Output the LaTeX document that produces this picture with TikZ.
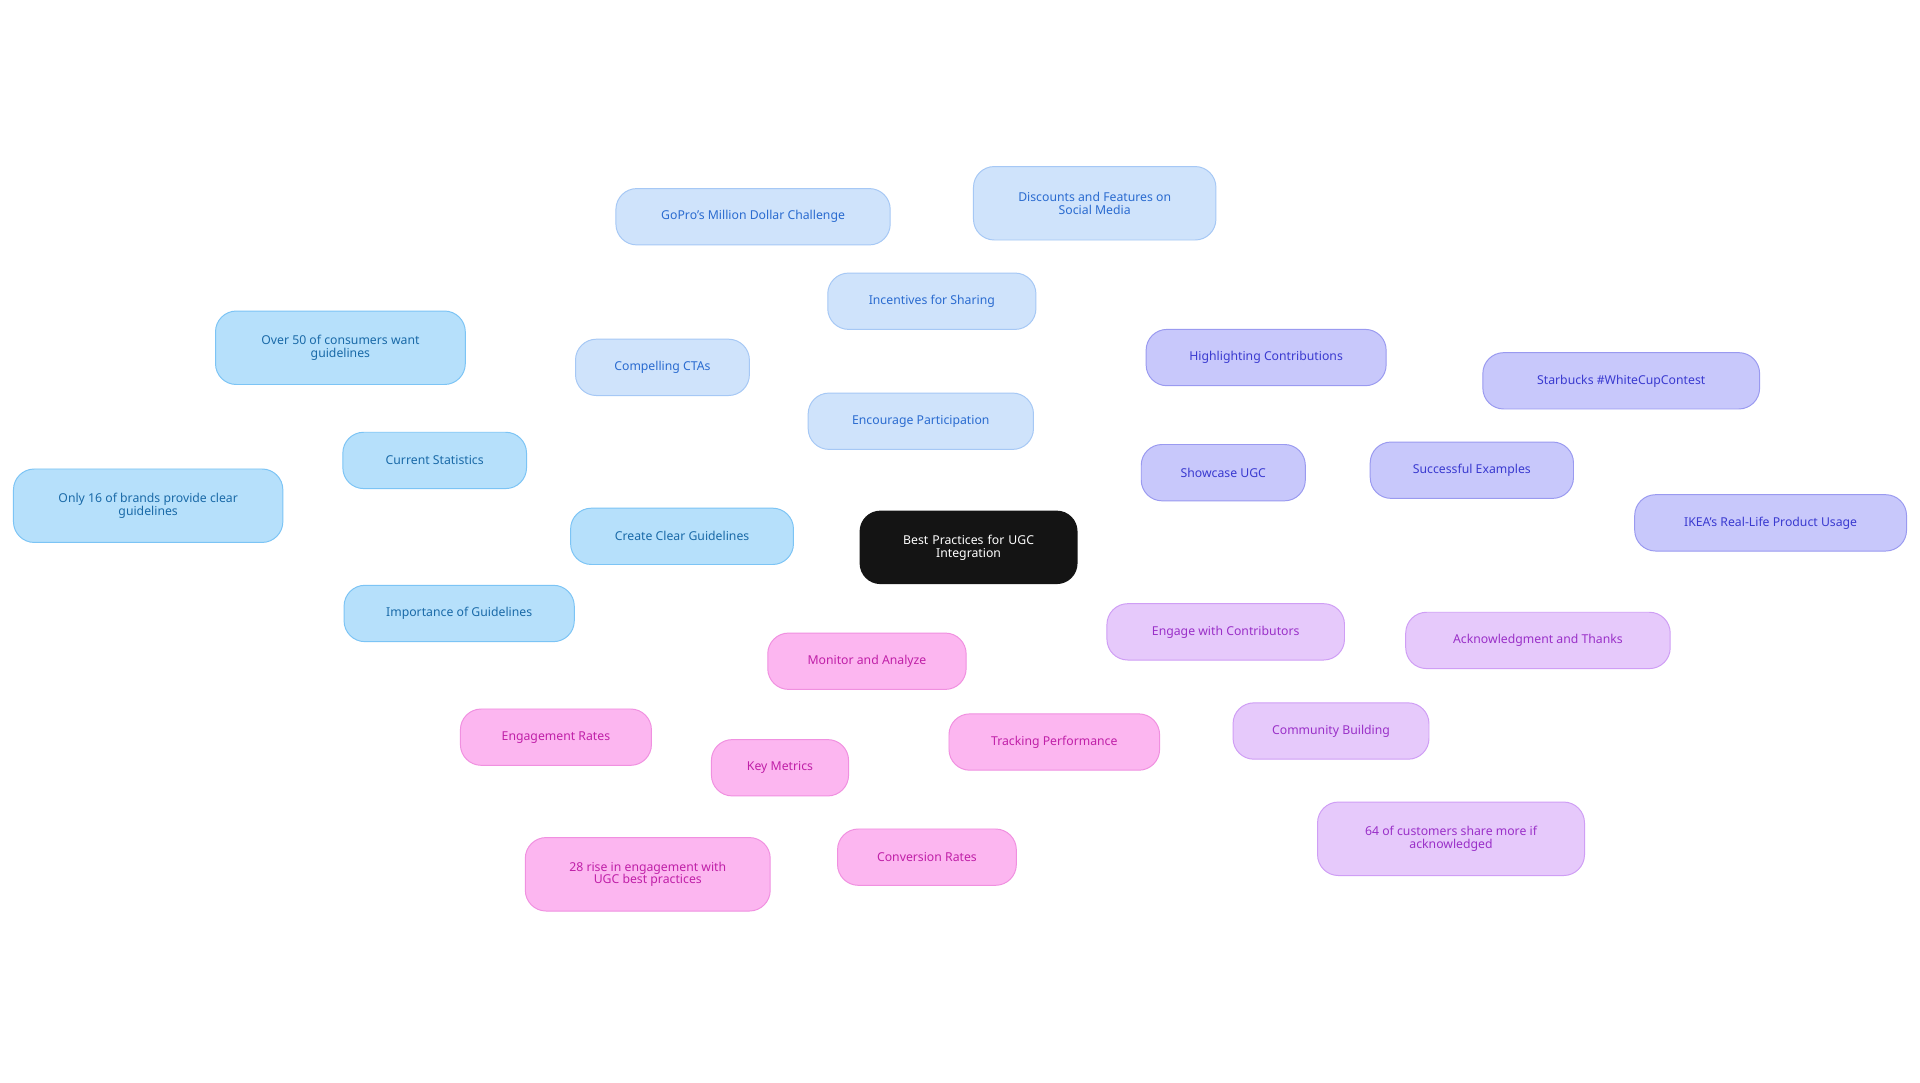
\documentclass[tikz,border=0pt]{standalone}
\usepackage{fontspec}
\setmainfont{Noto Sans}
\begin{document}
\begin{tikzpicture}[x=1pt,y=-1pt,
 base/.style={rounded corners=17pt,align=center,font=\fontsize{10}{10.5}\selectfont,inner sep=0pt,line width=0.8pt},
 b1/.style={base,fill=cB1,draw=dB1,text=tB1},
 b2/.style={base,fill=cB2,draw=dB2,text=tB2},
 b3/.style={base,fill=cB3,draw=dB3,text=tB3},
 b4/.style={base,fill=cB4,draw=dB4,text=tB4},
 b5/.style={base,fill=cB5,draw=dB5,text=tB5},
 e1/.style={draw=lB1,line width=1.3pt},
 e2/.style={draw=lB2,line width=1.3pt},
 e3/.style={draw=lB3,line width=1.3pt},
 e4/.style={draw=lB4,line width=1.3pt},
 e5/.style={draw=lB5,line width=1.3pt}]
\definecolor{cB1}{HTML}{B6E0FB}\definecolor{dB1}{HTML}{7CC4F5}\definecolor{tB1}{HTML}{1A6AA8}\definecolor{lB1}{HTML}{7CBDF0}
\definecolor{cB2}{HTML}{CFE3FB}\definecolor{dB2}{HTML}{A6C8F5}\definecolor{tB2}{HTML}{2A6BD0}\definecolor{lB2}{HTML}{90BCF0}
\definecolor{cB3}{HTML}{C8C8FB}\definecolor{dB3}{HTML}{9A9AF0}\definecolor{tB3}{HTML}{3A3AD0}\definecolor{lB3}{HTML}{9A9AF0}
\definecolor{cB4}{HTML}{E6C9FB}\definecolor{dB4}{HTML}{CF9EF5}\definecolor{tB4}{HTML}{9A30C8}\definecolor{lB4}{HTML}{C890F0}
\definecolor{cB5}{HTML}{FCB6F0}\definecolor{dB5}{HTML}{F090E0}\definecolor{tB5}{HTML}{C020A8}\definecolor{lB5}{HTML}{F090E0}
\useasboundingbox[fill=white] (0,0) rectangle (1568,884.4);
\node[base,fill=black!90!blue!60!black,fill=black!92,draw=none,text=white,minimum width=178pt,minimum height=60pt,text width=170pt] (root) at (791,447) {Best Practices for UGC\\Integration};
% blue
\node[b1,minimum width=182pt,minimum height=46pt] (ccg) at (557,438) {Create Clear Guidelines};
\node[b1,minimum width=150pt,minimum height=46pt] (cs) at (355,376) {Current Statistics};
\node[b1,minimum width=204pt,minimum height=60pt] (o50) at (278,284) {Over 50 of consumers want\\guidelines};
\node[b1,minimum width=220pt,minimum height=60pt] (o16) at (121,413) {Only 16 of brands provide clear\\guidelines};
\node[b1,minimum width=188pt,minimum height=46pt] (iog) at (375,501) {Importance of Guidelines};
% light blue
\node[b2,minimum width=184pt,minimum height=46pt] (ep) at (752,344) {Encourage Participation};
\node[b2,minimum width=142pt,minimum height=46pt] (cta) at (541,300) {Compelling CTAs};
\node[b2,minimum width=170pt,minimum height=46pt] (ifs) at (761,246) {Incentives for Sharing};
\node[b2,minimum width=224pt,minimum height=46pt] (gp) at (615,177) {GoPro's Million Dollar Challenge};
\node[b2,minimum width=198pt,minimum height=60pt] (dis) at (894,166) {Discounts and Features on\\Social Media};
% purple-blue
\node[b3,minimum width=134pt,minimum height=46pt] (sh) at (999,386) {Showcase UGC};
\node[b3,minimum width=196pt,minimum height=46pt] (hc) at (1034,292) {Highlighting Contributions};
\node[b3,minimum width=166pt,minimum height=46pt] (se) at (1202,384) {Successful Examples};
\node[b3,minimum width=226pt,minimum height=46pt] (sb) at (1324,311) {Starbucks \#WhiteCupContest};
\node[b3,minimum width=222pt,minimum height=46pt] (ik) at (1446,427) {IKEA's Real-Life Product Usage};
% lavender
\node[b4,minimum width=194pt,minimum height=46pt] (ewc) at (1001,516) {Engage with Contributors};
\node[b4,minimum width=216pt,minimum height=46pt] (at) at (1256,523) {Acknowledgment and Thanks};
\node[b4,minimum width=160pt,minimum height=46pt] (cb) at (1087,597) {Community Building};
\node[b4,minimum width=218pt,minimum height=60pt] (s64) at (1185,685) {64 of customers share more if\\acknowledged};
% pink
\node[b5,minimum width=162pt,minimum height=46pt] (ma) at (708,540) {Monitor and Analyze};
\node[b5,minimum width=172pt,minimum height=46pt] (tp) at (861,606) {Tracking Performance};
\node[b5,minimum width=112pt,minimum height=46pt] (km) at (637,627) {Key Metrics};
\node[b5,minimum width=156pt,minimum height=46pt] (er) at (454,602) {Engagement Rates};
\node[b5,minimum width=146pt,minimum height=46pt] (cr) at (757,700) {Conversion Rates};
\node[b5,minimum width=200pt,minimum height=60pt] (r28) at (529,714) {28 rise in engagement with\\UGC best practices};
\begin{scope}[on background layer/.style={}]
\end{scope}
\end{tikzpicture}
\end{document}
